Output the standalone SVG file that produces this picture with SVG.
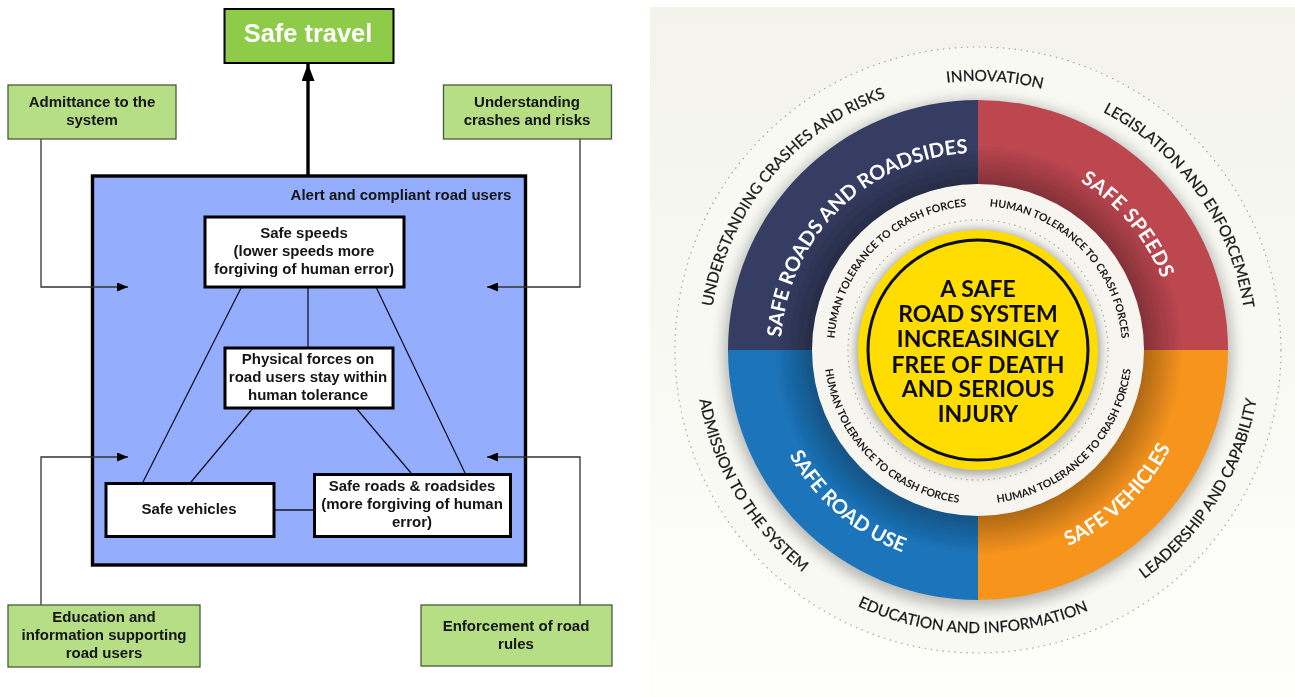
<svg xmlns="http://www.w3.org/2000/svg" width="1295" height="697" viewBox="0 0 1295 697">
<style>
.g{fill:#b5de85;stroke:#4a5a3e;stroke-width:1.3}
.w{fill:#fff;stroke:#000;stroke-width:3}
.t{font-family:"Liberation Sans",Arial,sans-serif;font-weight:700;font-size:15px;fill:#141414;text-anchor:middle}
.c{fill:none;stroke:#333;stroke-width:1.3}
.i{fill:none;stroke:#14142a;stroke-width:1.3}
.r{font-family:Lato,"Open Sans",sans-serif;text-anchor:middle}
.o{font-size:15.4px;font-weight:400;fill:#1a1a1a;stroke:#1a1a1a;stroke-width:.25}
.b{font-size:20px;font-weight:700;fill:#fff}
.h{font-size:10.6px;font-weight:700;fill:#1a1a1a}
.m{font-family:Lato,"Open Sans",sans-serif;font-weight:700;font-size:23px;fill:#0c0c08;text-anchor:middle}
</style>
<defs>
<marker id="a" markerUnits="userSpaceOnUse" markerWidth="11" markerHeight="9" refX="11" refY="4.5" orient="auto"><path d="M0,0L11,4.5L0,9z" fill="#000"/></marker>
<marker id="A" markerUnits="userSpaceOnUse" markerWidth="17" markerHeight="13" refX="17" refY="6.5" orient="auto"><path d="M0,0L17,6.5L0,13z" fill="#000"/></marker>
<linearGradient id="bg" x1="0" y1="0" x2="0" y2="1"><stop offset="0" stop-color="#f3f3ec"/><stop offset="1" stop-color="#fefefb"/></linearGradient>
<radialGradient id="sh" gradientUnits="userSpaceOnUse" cx="978" cy="350" r="250">
<stop offset="0.66" stop-color="#000" stop-opacity="0.3"/><stop offset="0.82" stop-color="#000" stop-opacity="0"/></radialGradient>
<filter id="bl" x="-20%" y="-20%" width="140%" height="140%"><feGaussianBlur stdDeviation="7"/></filter>
<filter id="bs" x="-20%" y="-20%" width="140%" height="140%"><feGaussianBlur stdDeviation="4"/></filter>
<filter id="soft" filterUnits="userSpaceOnUse" x="0" y="0" width="1295" height="697"><feGaussianBlur stdDeviation="0.4"/></filter>
<path id="p269" d="M978,619A269,269 0 1 1 978,81A269,269 0 1 1 978,619"/>
<path id="p283" d="M978,67A283,283 0 1 0 978,633A283,283 0 1 0 978,67"/>
<path id="p197" d="M978,547A197,197 0 1 1 978,153A197,197 0 1 1 978,547"/>
<path id="p216" d="M978,134A216,216 0 1 0 978,566A216,216 0 1 0 978,134"/>
<path id="p144" d="M978,494A144,144 0 1 1 978,206A144,144 0 1 1 978,494"/>
<path id="p154" d="M978,196A154,154 0 1 0 978,504A154,154 0 1 0 978,196"/>
</defs>
<rect width="1295" height="697" fill="#fff"/>
<g filter="url(#soft)">
<g id="node-road-users"><rect x="92.500" y="176" width="433" height="389" fill="#94adfd" stroke="#000" stroke-width="3.400"/>
<text class="t" x="401" y="200">Alert and compliant road users</text></g>
<g id="connectors">
<path d="M308,175V64" fill="none" stroke="#000" stroke-width="3.400" marker-end="url(#A)"/>
<path class="c" d="M41,139V287H128" marker-end="url(#a)"/>
<path class="c" d="M580,139V287H487" marker-end="url(#a)"/>
<path class="c" d="M41,605V457H128" marker-end="url(#a)"/>
<path class="c" d="M580,605V457H487" marker-end="url(#a)"/>
<path class="i" d="M241,288L143,482M308,287V347M376,287L465,473M253,408L191,482M356,408L411,473M275,510H314"/>
</g>
<g id="node-safe-travel"><rect x="224.500" y="9" width="169" height="54" fill="#8dcb4a" stroke="#000" stroke-width="2"/>
<text x="308" y="42" font-family="Liberation Sans,Arial,sans-serif" font-weight="700" font-size="25.400" fill="#fff" text-anchor="middle">Safe travel</text></g>
<g id="node-admittance"><rect class="g" x="8" y="85" width="168" height="54"/><text class="t" x="92" y="107">Admittance to the</text><text class="t" x="92" y="125">system</text></g>
<g id="node-understanding"><rect class="g" x="443.500" y="85" width="168" height="54"/><text class="t" x="527" y="107">Understanding</text><text class="t" x="527" y="125">crashes and risks</text></g>
<g id="node-education"><rect class="g" x="8" y="605" width="192" height="62"/><text class="t" x="104" y="622">Education and</text><text class="t" x="104" y="640">information supporting</text><text class="t" x="104" y="658">road users</text></g>
<g id="node-enforcement"><rect class="g" x="421" y="605" width="191" height="61"/><text class="t" x="516" y="631">Enforcement of road</text><text class="t" x="516" y="649">rules</text></g>
<g id="node-safe-speeds"><rect class="w" x="205" y="217" width="199" height="70"/><text class="t" x="304" y="238">Safe speeds</text><text class="t" x="304" y="256">(lower speeds more</text><text class="t" x="304" y="274">forgiving of human error)</text></g>
<g id="node-physical"><rect class="w" x="225" y="348" width="168" height="60"/><text class="t" x="308" y="364">Physical forces on</text><text class="t" x="308" y="382">road users stay within</text><text class="t" x="308" y="400">human tolerance</text></g>
<g id="node-safe-vehicles"><rect class="w" x="106" y="483.500" width="168" height="53"/><text class="t" x="189" y="514">Safe vehicles</text></g>
<g id="node-safe-roads"><rect class="w" x="314.500" y="474.500" width="196" height="62"/><text class="t" x="412" y="491">Safe roads &amp; roadsides</text><text class="t" x="412" y="509">(more forgiving of human</text><text class="t" x="412" y="527">error)</text></g>

<g id="road-system">
<rect x="650" y="7" width="645" height="690" fill="url(#bg)"/>
<circle cx="978" cy="350" r="303" fill="#f9f9f4" stroke="#a8a8a0" stroke-width="1.200" stroke-dasharray="1.500 4.500"/>
<circle cx="978" cy="354" r="254" fill="#000" opacity="0.27" filter="url(#bl)"/>
<path d="M978,350V100A250,250 0 0 0 728,350z" fill="#363e64"/>
<path d="M978,350V100A250,250 0 0 1 1228,350z" fill="#bc4650"/>
<path d="M978,350V600A250,250 0 0 1 728,350z" fill="#1b75bb"/>
<path d="M978,350V600A250,250 0 0 0 1228,350z" fill="#f7941e"/>
<circle cx="978" cy="350" r="250" fill="url(#sh)"/>
<circle cx="978" cy="350" r="166" fill="#f6f5ef"/>
<circle cx="978" cy="350" r="130" fill="none" stroke="#a8a8a0" stroke-width="1.100" stroke-dasharray="1.500 4"/>
<circle cx="978" cy="352" r="123" fill="#000" opacity="0.3" filter="url(#bs)"/>
<circle cx="978" cy="350" r="120" fill="#ffdd00"/>
<circle cx="978" cy="350" r="110" fill="none" stroke="#0c0c08" stroke-width="3"/>
<text class="m" x="978" y="297">A SAFE</text>
<text class="m" x="978" y="322">ROAD SYSTEM</text>
<text class="m" x="978" y="347">INCREASINGLY</text>
<text class="m" x="978" y="372.500">FREE OF DEATH</text>
<text class="m" x="978" y="397">AND SERIOUS</text>
<text class="m" x="978" y="422">INJURY</text>
<text class="r o"><textPath href="#p269" startOffset="51%">INNOVATION</textPath></text>
<text class="r o"><textPath href="#p269" startOffset="36%">UNDERSTANDING CRASHES AND RISKS</textPath></text>
<text class="r o"><textPath href="#p269" startOffset="65.100%">LEGISLATION AND ENFORCEMENT</textPath></text>
<text class="r o"><textPath href="#p283" startOffset="33.600%">ADMISSION TO THE SYSTEM</textPath></text>
<text class="r o"><textPath href="#p283" startOffset="49.700%">EDUCATION AND INFORMATION</textPath></text>
<text class="r o"><textPath href="#p283" startOffset="66.100%">LEADERSHIP AND CAPABILITY</textPath></text>
<text class="r b"><textPath href="#p197" startOffset="37.600%">SAFE ROADS AND ROADSIDES</textPath></text>
<text class="r b" letter-spacing=".4"><textPath href="#p197" startOffset="63.900%">SAFE SPEEDS</textPath></text>
<text class="r b"><textPath href="#p216" startOffset="38.700%">SAFE ROAD USE</textPath></text>
<text class="r b"><textPath href="#p216" startOffset="62.200%">SAFE VEHICLES</textPath></text>
<text class="r h"><textPath href="#p144" startOffset="37.500%">HUMAN TOLERANCE TO CRASH FORCES</textPath></text>
<text class="r h"><textPath href="#p144" startOffset="62.500%">HUMAN TOLERANCE TO CRASH FORCES</textPath></text>
<text class="r h"><textPath href="#p154" startOffset="37.500%">HUMAN TOLERANCE TO CRASH FORCES</textPath></text>
<text class="r h"><textPath href="#p154" startOffset="62.500%">HUMAN TOLERANCE TO CRASH FORCES</textPath></text>
</g>
</g>
</svg>
